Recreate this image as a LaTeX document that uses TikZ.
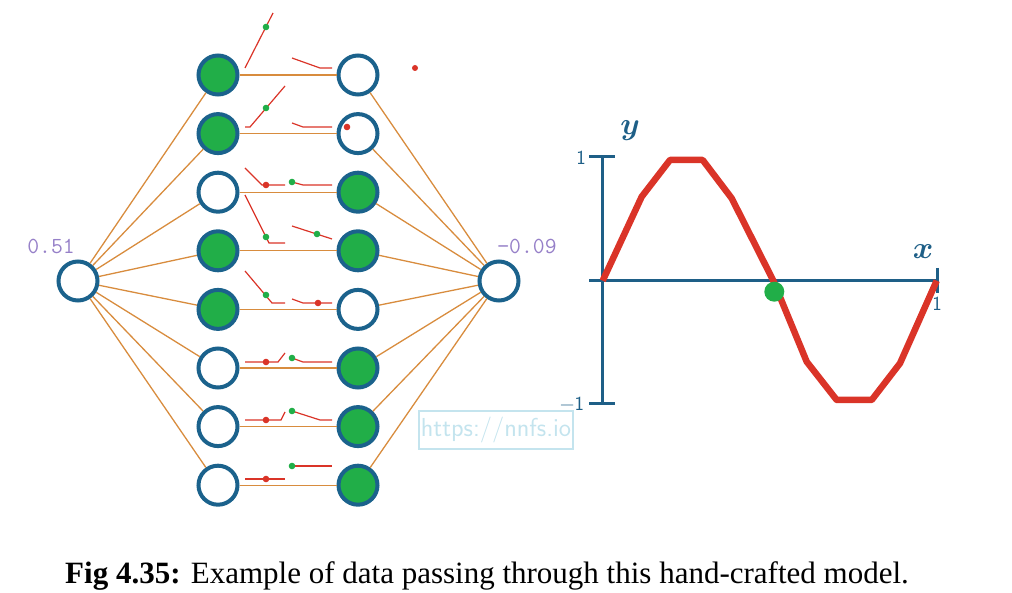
\documentclass[tikz,border=0pt]{standalone}
\usepackage{fontspec}
\usepackage{bm}
\usepackage{graphicx}
\usetikzlibrary{positioning}
\newfontfamily\capfont{Liberation Serif}

\definecolor{ringblue}{RGB}{27,98,140}
\definecolor{leafgreen}{RGB}{33,174,72}
\definecolor{wireorange}{RGB}{216,140,62}
\definecolor{relured}{RGB}{218,52,40}
\definecolor{valpurple}{RGB}{150,128,200}
\definecolor{markcyan}{RGB}{196,228,238}
\definecolor{axisblue}{RGB}{30,95,135}

\tikzstyle{neuron}=[circle, draw=ringblue, line width=4pt, minimum size=39pt, inner sep=0pt, fill=white]
\tikzstyle{fired}=[neuron, fill=leafgreen]
\tikzstyle{wire}=[draw=wireorange, line width=1.3pt]
\tikzstyle{relu}=[draw=relured, line width=1.2pt]
\tikzstyle{value}=[text=valpurple, font=\ttfamily\fontsize{23}{26}\selectfont]
\tikzstyle{axis}=[draw=axisblue, line width=2.5pt]
\tikzstyle{tick}=[text=axisblue, font=\sffamily\fontsize{20}{24}\selectfont]
\tikzstyle{axlabel}=[text=axisblue, font=\fontsize{24.88}{30}\selectfont]

\begin{document}
\begin{tikzpicture}[x=1pt, y=-1pt, node distance=58.6pt]
\useasboundingbox (0,0) rectangle (1012,593);

% network
\node (in) [neuron] at (78,281) {};
\node (a1) [fired] at (218,75) {};
\node (a2) [fired, below of=a1] {};
\node (a3) [neuron, below of=a2] {};
\node (a4) [fired, below of=a3] {};
\node (a5) [fired, below of=a4] {};
\node (a6) [neuron, below of=a5] {};
\node (a7) [neuron, below of=a6] {};
\node (a8) [neuron, below of=a7] {};
\node (b1) [neuron] at (358,75) {};
\node (b2) [neuron, below of=b1] {};
\node (b3) [fired, below of=b2] {};
\node (b4) [fired, below of=b3] {};
\node (b5) [neuron, below of=b4] {};
\node (b6) [fired, below of=b5] {};
\node (b7) [fired, below of=b6] {};
\node (b8) [fired, below of=b7] {};
\node (out) [neuron] at (499,281) {};

\node (inval) [value] at (51,246) {0.51};
\node (outval) [value] at (527,246) {−0.09};

\draw [wire] (in) -- (a1);
\draw [wire] (in) -- (a2);
\draw [wire] (in) -- (a3);
\draw [wire] (in) -- (a4);
\draw [wire] (in) -- (a5);
\draw [wire] (in) -- (a6);
\draw [wire] (in) -- (a7);
\draw [wire] (in) -- (a8);
\draw [wire] (a1) -- (b1);
\draw [wire] (a2) -- (b2);
\draw [wire] (a3) -- (b3);
\draw [wire] (a4) -- (b4);
\draw [wire] (a5) -- (b5);
\draw [wire] (a6) -- (b6);
\draw [wire] (a7) -- (b7);
\draw [wire] (a8) -- (b8);
\draw [wire] (b1) -- (out);
\draw [wire] (b2) -- (out);
\draw [wire] (b3) -- (out);
\draw [wire] (b4) -- (out);
\draw [wire] (b5) -- (out);
\draw [wire] (b6) -- (out);
\draw [wire] (b7) -- (out);
\draw [wire] (b8) -- (out);

% activation glyphs
\draw [relu] (245,68) -- (273,13);
\draw [relu] (292,58) -- (320,68) -- (332,68);
\draw [relu] (245,127) -- (250,127) -- (285,86);
\draw [relu] (292,123) -- (303,127) -- (332,127);
\draw [relu] (245,168) -- (262,185) -- (285,185);
\draw [relu] (292,182) -- (303,185) -- (332,185);
\draw [relu] (245,195) -- (269,243) -- (285,243);
\draw [relu] (292,226) -- (332,239);
\draw [relu] (245,271) -- (272,303) -- (285,303);
\draw [relu] (292,299) -- (303,303) -- (332,303);
\draw [relu] (245,362) -- (278,362) -- (285,353);
\draw [relu] (292,358) -- (303,362) -- (332,362);
\draw [relu] (245,420) -- (281,420) -- (285,412);
\draw [relu] (292,411) -- (320,420) -- (332,420);
\draw [relu] (245,479) -- (285,479);
\draw [relu] (292,466) -- (332,466);

\fill [leafgreen] (266,27) circle (3.3pt);
\fill [leafgreen] (266,108) circle (3.3pt);
\fill [relured] (347,127) circle (3.3pt);
\fill [relured] (266,185) circle (3.3pt);
\fill [leafgreen] (292,182) circle (3.3pt);
\fill [leafgreen] (266,237) circle (3.3pt);
\fill [leafgreen] (317,234) circle (3.3pt);
\fill [leafgreen] (266,295) circle (3.3pt);
\fill [relured] (318,303) circle (3.3pt);
\fill [relured] (266,362) circle (3.3pt);
\fill [leafgreen] (292,358) circle (3.3pt);
\fill [relured] (266,420) circle (3.3pt);
\fill [leafgreen] (292,411) circle (3.3pt);
\fill [relured] (266,479) circle (3.3pt);
\fill [leafgreen] (292,466) circle (3.3pt);
\fill [relured] (415,68) circle (3pt);

% watermark
\node (site) [draw=markcyan, line width=1.5pt, minimum width=150pt, minimum height=38pt, inner sep=2pt, text=markcyan, font=\sffamily\fontsize{26}{30}\selectfont] at (496,430) {https://nnfs.io};

% plot
\draw [axis] (589,156.7) -- (615,156.7);
\draw [axis] (602.7,156.7) -- (602.7,403.3);
\draw [axis] (589,403.3) -- (615,403.3);
\draw [axis] (589,280.7) -- (937.7,280.7);
\draw [axis] (937.7,268) -- (937.7,293);
\draw [draw=relured, line width=6.5pt, line join=round] (602.7,280.7) -- (641.7,196.7) -- (670,160) -- (702.7,160) -- (731.7,198.3) -- (773.3,280.7) -- (806.7,361.7) -- (836.7,400) -- (871.7,400) -- (900,363.3) -- (936.7,280.7);
\fill [leafgreen] (774.3,291.7) circle (10pt);

\node (ytop) [tick] at (581,158) {1};
\node (ybot) [tick] at (572,404) {−1};
\node (xend) [tick] at (937,304) {1};
\node (ylab) [axlabel] at (630,131) {\scalebox{1.25}{$\bm{y}$}};
\node (xlab) [axlabel] at (923,252) {\scalebox{1.25}{$\bm{x}$}};

% caption
\node (cap) [anchor=base west, inner sep=0pt, font=\capfont\fontsize{31}{36}\selectfont] at (65,583) {\textbf{Fig 4.35:} Example of data passing through this hand-crafted model.};

\end{tikzpicture}
\end{document}
